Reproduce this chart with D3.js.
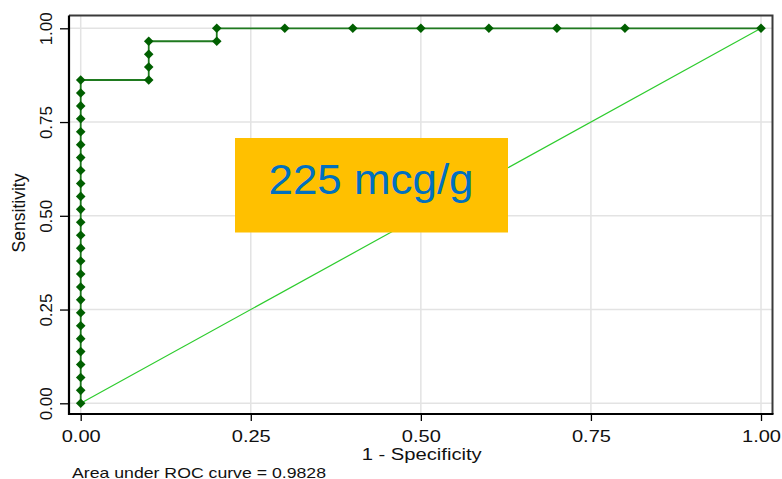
<!DOCTYPE html>
<html>
<head>
<meta charset="utf-8">
<script src="https://cdn.jsdelivr.net/npm/d3@7"></script>
<style>
  html, body { margin: 0; padding: 0; background: #fff; }
  svg { display: block; }
  text { font-family: "Liberation Sans", Arial, sans-serif; }
</style>
</head>
<body>
<svg id="chart" width="782" height="479"></svg>
<script>
// ---- data ----
const fpr = [0,0,0,0,0,0,0,0,0,0,0,0,0,0,0,0,0,0,0,0,0,0,0,0,0,0,
             0.1,0.1,0.1,0.1, 0.2,0.2, 0.3,0.4,0.5,0.6,0.7,0.8,1.0];
const sensitivity = [0,0.0345,0.069,0.1034,0.1379,0.1724,0.2069,0.2414,0.2759,0.3103,
             0.3448,0.3793,0.4138,0.4483,0.4828,0.5172,0.5517,0.5862,0.6207,0.6552,
             0.6897,0.7241,0.7586,0.7931,0.8276,0.8621,
             0.8621,0.8966,0.931,0.9655, 0.9655,1, 1,1,1,1,1,1,1];
const tickValues = [0, 0.25, 0.5, 0.75, 1];
const tickLabels = ["0.00", "0.25", "0.50", "0.75", "1.00"];
const diagonal = [[0, 0], [1, 1]];
const xTitle = "1 - Specificity";
const yTitle = "Sensitivity";
const note = "Area under ROC curve = 0.9828";
const boxLabel = "225 mcg/g";

// ---- layout ----
const svg = d3.select("#chart");
const frame = {left: 69, right: 772.5, top: 15.5, bottom: 414};
const x = d3.scaleLinear().domain([0, 1]).range([80.7, 761]);
const y = d3.scaleLinear().domain([0, 1]).range([403.3, 28.3]);

// gridlines
svg.append("g").selectAll("line.gx").data(tickValues).join("line")
  .attr("x1", d => x(d)).attr("x2", d => x(d))
  .attr("y1", frame.top).attr("y2", frame.bottom)
  .attr("stroke", "#e3e3e3").attr("stroke-width", 1.5);
svg.append("g").selectAll("line.gy").data(tickValues).join("line")
  .attr("y1", d => y(d)).attr("y2", d => y(d))
  .attr("x1", frame.left).attr("x2", frame.right)
  .attr("stroke", "#e3e3e3").attr("stroke-width", 1.5);

// frame top/right
svg.append("path")
  .attr("d", `M${frame.left},${frame.top}H${frame.right}V${frame.bottom}`)
  .attr("fill", "none").attr("stroke", "#3a3a3a").attr("stroke-width", 2);

// axes
const yAxis = d3.axisLeft(y).tickValues(tickValues).tickSize(9)
  .tickFormat((d, i) => tickLabels[i]);
const gy = svg.append("g").attr("transform", `translate(${frame.left},0)`).call(yAxis);
gy.select(".domain").remove();
gy.selectAll(".tick line").attr("stroke", "#000").attr("stroke-width", 1.3);
gy.selectAll(".tick text")
  .attr("x", null).attr("dy", null)
  .attr("transform", "translate(-17.5,0) rotate(-90)")
  .attr("text-anchor", "middle")
  .attr("font-size", 17).attr("fill", "#111");

const xAxis = d3.axisBottom(x).tickValues(tickValues).tickSize(7)
  .tickFormat((d, i) => tickLabels[i]);
const gx = svg.append("g").attr("transform", `translate(0,${frame.bottom})`).call(xAxis);
gx.select(".domain").remove();
gx.selectAll(".tick line").attr("stroke", "#000").attr("stroke-width", 1.3);
gx.selectAll(".tick text")
  .attr("y", 27.5).attr("dy", null)
  .attr("font-size", 17).attr("fill", "#111")
  .attr("textLength", 39).attr("lengthAdjust", "spacingAndGlyphs");

// left & bottom axis lines
svg.append("path")
  .attr("d", `M${frame.left},${frame.top}V${frame.bottom}H${frame.right + 1}`)
  .attr("fill", "none").attr("stroke", "#000").attr("stroke-width", 2.2);

// diagonal reference
svg.append("path")
  .datum(diagonal)
  .attr("d", d3.line().x(d => x(d[0])).y(d => y(d[1])))
  .attr("fill", "none").attr("stroke", "#2ecc2e").attr("stroke-width", 1.2);

// ROC curve
const pts = fpr.map((f, i) => [f, sensitivity[i]]);
svg.append("path")
  .datum(pts)
  .attr("d", d3.line().x(d => x(d[0])).y(d => y(d[1])))
  .attr("fill", "none").attr("stroke", "#1f7a1f").attr("stroke-width", 1.8);

const diamond = d3.symbol().type(d3.symbolSquare).size(46);
svg.append("g").selectAll("path").data(pts).join("path")
  .attr("d", diamond)
  .attr("transform", d => `translate(${x(d[0])},${y(d[1])}) rotate(45)`)
  .attr("fill", "#005f00");

// titles
svg.append("text")
  .attr("transform", "translate(24.5,213) rotate(-90)")
  .attr("text-anchor", "middle")
  .attr("font-size", 17.5).attr("fill", "#111")
  .text(yTitle);
svg.append("text")
  .attr("x", 421.7).attr("y", 460)
  .attr("text-anchor", "middle")
  .attr("font-size", 16).attr("fill", "#111")
  .attr("textLength", 120).attr("lengthAdjust", "spacingAndGlyphs")
  .text(xTitle);
svg.append("text")
  .attr("x", 72).attr("y", 477.5)
  .attr("font-size", 14.5).attr("fill", "#111")
  .attr("textLength", 254).attr("lengthAdjust", "spacingAndGlyphs")
  .text(note);

// annotation box
svg.append("rect")
  .attr("x", 235).attr("y", 138).attr("width", 273).attr("height", 94.5)
  .attr("fill", "#FFC000");
svg.append("text")
  .attr("x", 371).attr("y", 194)
  .attr("text-anchor", "middle")
  .attr("font-family", "'Open Sans', Lato, sans-serif")
  .attr("font-size", 43).attr("fill", "#0070C0")
  .attr("textLength", 205).attr("lengthAdjust", "spacingAndGlyphs")
  .text(boxLabel);
</script>
</body>
</html>
